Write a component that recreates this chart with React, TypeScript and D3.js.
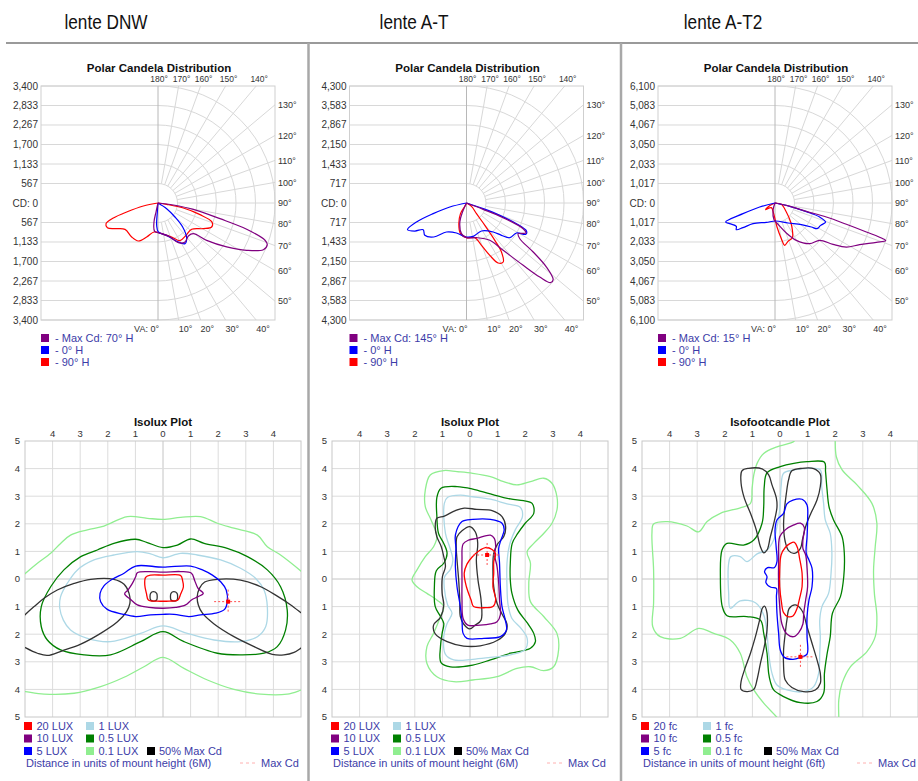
import * as d3 from "d3";
import { useEffect, useRef } from "react";

type Pt = [number, number];

// ---- headers / labels ----
const lensNames = ["lente DNW", "lente A-T", "lente A-T2"];
const maxCdLabels = ["- Max Cd: 70° H", "- Max Cd: 145° H", "- Max Cd: 15° H"];
const planeLabels = ["- 0° H", "- 90° H"];
const isoTitles = ["Isolux Plot", "Isolux Plot", "Isofootcandle Plot"];
const isoUnits = ["LUX", "LUX", "fc"];
const mountLabels = ["(6M)", "(6M)", "(6ft)"];
const isoLevelLabels = ["20", "10", "5", "1", "0.5", "0.1"];

// candela rings per lens
const cdTicksDnw = [567, 1133, 1700, 2267, 2833, 3400];
const cdTicksAt = [717, 1433, 2150, 2867, 3583, 4300];
const cdTicksAt2 = [1017, 2033, 3050, 4067, 5083, 6100];

const topAngles = [180, 170, 160, 150, 140];
const sideAngles = [130, 120, 110, 100, 90, 80, 70, 60, 50];
const bottomAngles = [10, 20, 30, 40];
const isoTicks = [-4, -3, -2, -1, 0, 1, 2, 3, 4];
const isoSideTicks = [5, 4, 3, 2, 1, 0, -1, -2, -3, -4, -5];

// ---- polar curves: [vertical angle, candela], negative angle = opposite plane ----
const dnwMax: Pt[] = [[-90, 0], [-12.5, 268], [-11.9, 564], [-6.7, 829], [6.8, 898], [19.4, 1048], [27.1, 1295], [34.7, 1378], [42.6, 1303], [49, 1360], [52.5, 1782], [57.4, 2370], [61.9, 2920], [66.1, 3348], [69, 3400], [70.8, 3293], [73.5, 2688], [75.8, 1858], [79.8, 1043], [82.6, 449], [90, 0]];
const dnw0H: Pt[] = [[-90, 0], [-4.2, 262], [-3.4, 650], [0.7, 843], [15, 973], [26, 1239], [33.6, 1418], [39.3, 1315], [45.8, 1000], [50.5, 640], [56.8, 301], [90, 0]];
const dnw90H: Pt[] = [[-90, 0], [-78.4, 435], [-74, 947], [-71.4, 1369], [-68.3, 1626], [-64, 1637], [-59.2, 1455], [-51.4, 1227], [-37.8, 1249], [-27.4, 1243], [-18.4, 1041], [-7.9, 850], [6.8, 898], [21.9, 1065], [30.3, 1268], [40.9, 1243], [52, 1242], [60.5, 1514], [65.9, 1708], [70.6, 1663], [74.5, 1267], [78.8, 751], [81, 255], [90, 0]];

const atMax: Pt[] = [[-90, 0], [-24, 362], [-19.3, 740], [-9.3, 1142], [0, 1274], [16.1, 1326], [32, 1617], [37.8, 2200], [42.3, 3096], [44.7, 3829], [46.5, 4255], [48.5, 4252], [51.3, 3766], [53.7, 3041], [56.2, 2358], [59.3, 2208], [63.2, 2444], [65.6, 2286], [68.2, 1452], [69.2, 655], [90, 0]];
const at0H: Pt[] = [[-90, 0], [-76.5, 630], [-72.3, 1286], [-69.2, 1966], [-65.7, 2379], [-61.5, 2160], [-58.4, 1870], [-52.2, 1938], [-43.9, 1733], [-34.6, 1295], [-18.4, 1162], [-1.1, 1250], [11.3, 1250], [28.2, 1167], [42.6, 1448], [47.3, 1751], [51.3, 2040], [59, 2143], [62.2, 2466], [65, 2433], [67.5, 1988], [69.7, 1306], [71.2, 647], [90, 0]];
const at90H: Pt[] = [[-90, 0], [-26.6, 137], [-29.4, 450], [-20.4, 810], [-11.1, 1148], [0, 1274], [13.5, 1310], [19.5, 1650], [24, 2106], [27.8, 2493], [31.9, 2553], [35.5, 2212], [37.2, 1722], [39.4, 1062], [43.2, 537], [56.3, 221], [90, 0]];

const at2Max: Pt[] = [[-90, 0], [-15.3, 396], [-3.4, 871], [10.2, 1183], [20.7, 1672], [29.7, 2242], [40.4, 2786], [50.1, 3035], [54.5, 3714], [58.3, 4370], [63.8, 4920], [68.8, 5668], [71.2, 6100], [71.7, 5930], [72.4, 4997], [73.4, 3883], [74.7, 2774], [75.1, 1691], [78.4, 603], [90, 0]];
const at20H: Pt[] = [[-90, 0], [-75.4, 826], [-71.6, 1759], [-69, 2757], [-65.5, 2598], [-58.9, 2355], [-55.4, 2449], [-52.4, 2107], [-46.8, 1574], [-24.1, 1105], [2.1, 939], [33, 1244], [50.6, 1778], [56.6, 2270], [58.6, 2567], [63.9, 2650], [69.4, 2821], [72.6, 2440], [74.5, 1695], [77.2, 784], [90, 0]];
const at290H: Pt[] = [[-90, 0], [-63.4, 272], [-54.5, 598], [-38.2, 309], [-7.1, 560], [4.8, 1255], [10.1, 1889], [12.9, 2264], [18.7, 2110], [26.6, 2021], [33, 1658], [39.5, 1284], [51.5, 754], [78, 337], [90, 0]];

// ---- isolux contours, in mount heights [x, y] ----
// lente DNW
const dnw01Upper: Pt[] = [[-5.1, 0.1], [-4.98, 0.21], [-4.55, 0.57], [-4.07, 0.93], [-3.71, 1.29], [-3.35, 1.59], [-2.74, 1.78], [-2.14, 1.92], [-1.29, 2.26], [-0.57, 2.2], [0, 2.16], [0.64, 2.23], [1.36, 2.26], [1.97, 2.02], [2.57, 1.84], [3.42, 1.59], [3.78, 1.17], [4.26, 0.87], [5.02, 0.27], [5.1, 0.2]];
const dnw01Lower: Pt[] = [[-5.1, -4.07], [-4.98, -4.08], [-4.31, -4.17], [-3.22, -4.14], [-2.26, -3.9], [-1.41, -3.56], [-0.69, -3.18], [0, -2.84], [0.76, -3.24], [1.61, -3.66], [2.57, -4.0], [3.54, -4.17], [4.5, -4.17], [5.02, -4.02], [5.1, -4.0]];
const dnw05: Pt[] = [[0, 1.14], [-0.57, 1.32], [-0.99, 1.44], [-1.78, 1.29], [-2.38, 1.05], [-2.98, 0.81], [-3.59, 0.33], [-4.07, -0.28], [-4.41, -1.0], [-4.41, -1.73], [-4.19, -2.21], [-3.71, -2.57], [-2.86, -2.75], [-1.9, -2.75], [-0.81, -2.27], [0, -1.91], [0.76, -2.27], [1.97, -2.69], [2.81, -2.75], [3.66, -2.69], [4.14, -2.45], [4.44, -1.85], [4.5, -1.12], [4.26, -0.28], [3.78, 0.33], [3.06, 0.81], [2.33, 1.11], [1.49, 1.29], [1.0, 1.45], [0.52, 1.23]];
const dnw1: Pt[] = [[0, 0.77], [-0.45, 0.91], [-0.93, 0.99], [-1.78, 0.87], [-2.5, 0.69], [-3.1, 0.33], [-3.47, -0.16], [-3.71, -0.64], [-3.74, -1.06], [-3.61, -1.49], [-3.35, -1.85], [-2.74, -2.15], [-1.9, -2.27], [-0.81, -1.97], [0, -1.7], [0.88, -1.97], [1.85, -2.21], [2.81, -2.27], [3.42, -2.09], [3.72, -1.73], [3.78, -1.0], [3.66, -0.4], [3.36, 0.02], [2.81, 0.39], [2.09, 0.69], [1.24, 0.87], [0.64, 0.93]];
const dnw5: Pt[] = [[-0.99, 0.47], [0, 0.43], [1.0, 0.47], [1.43, 0.33], [1.79, 0.14], [2.09, -0.1], [2.29, -0.4], [2.33, -0.82], [2.23, -1.1], [1.91, -1.24], [1.36, -1.3], [0.94, -1.36], [0.4, -1.28], [0, -1.28], [-0.45, -1.3], [-0.99, -1.36], [-1.47, -1.27], [-2.02, -1.1], [-2.26, -0.82], [-2.28, -0.52], [-2.14, -0.25], [-1.84, -0.01], [-1.41, 0.21]];
const dnw10: Pt[] = [[-0.93, 0.23], [-0.51, 0.27], [0, 0.25], [0.64, 0.27], [1.03, 0.21], [1.15, -0.06], [1.27, -0.34], [1.46, -0.52], [1.27, -0.64], [1.03, -0.76], [0.82, -0.94], [0.46, -1.03], [0, -1.06], [-0.51, -1.03], [-0.93, -0.94], [-1.17, -0.74], [-1.39, -0.54], [-1.27, -0.4], [-1.11, -0.16], [-0.99, 0.08]];
const dnw20: Pt[] = [[-0.63, 0.06], [-0.45, 0.14], [0, 0.14], [0.64, 0.13], [0.71, -0.06], [0.74, -0.28], [0.64, -0.54], [0.54, -0.76], [0.22, -0.8], [-0.21, -0.8], [-0.53, -0.76], [-0.6, -0.52], [-0.66, -0.22]];
const dnwHalfLeft: Pt[] = [[-5.1, -1.4], [-4.98, -1.28], [-4.67, -1.0], [-4.31, -0.7], [-3.83, -0.4], [-3.22, -0.16], [-2.62, -0.01], [-1.78, -0.01], [-1.41, -0.19], [-1.23, -0.52], [-1.2, -0.88], [-1.32, -1.18], [-1.65, -1.55], [-2.26, -1.97], [-2.98, -2.36], [-3.65, -2.6], [-4.19, -2.77], [-4.55, -2.69], [-4.98, -2.49], [-5.1, -2.42]];
const dnwHalfRight: Pt[] = [[5.1, -1.3], [5.02, -1.24], [4.63, -0.94], [4.14, -0.62], [3.54, -0.28], [2.81, -0.04], [1.97, -0.01], [1.51, -0.11], [1.32, -0.34], [1.24, -0.64], [1.28, -0.94], [1.43, -1.24], [1.85, -1.63], [2.57, -2.09], [3.3, -2.45], [3.96, -2.73], [4.38, -2.75], [4.75, -2.66], [5.02, -2.49], [5.1, -2.44]];
const dnwHalfSmallL: Pt[] = [[-0.47, -0.64], [-0.45, -0.52], [-0.35, -0.46], [-0.23, -0.52], [-0.21, -0.64], [-0.23, -0.76], [-0.35, -0.8], [-0.45, -0.76]];
const dnwHalfSmallR: Pt[] = [[0.27, -0.64], [0.29, -0.52], [0.39, -0.46], [0.51, -0.52], [0.53, -0.64], [0.51, -0.76], [0.39, -0.8], [0.29, -0.76]];

// lente A-T
const at01: Pt[] = [[-1.62, 3.22], [-1.44, 3.77], [-0.95, 3.93], [-0.47, 3.89], [0.1, 3.83], [0.74, 3.71], [1.22, 3.53], [1.7, 3.41], [2.19, 3.53], [2.67, 3.65], [2.97, 3.47], [3.15, 2.98], [3.15, 2.5], [2.97, 2.02], [2.67, 1.65], [2.31, 1.29], [2.07, 0.99], [2.19, 0.57], [2.13, -0.16], [2.19, -0.82], [2.67, -1.36], [3.15, -1.97], [3.21, -2.57], [3.03, -3.18], [2.67, -3.32], [2.19, -3.18], [1.7, -3.24], [0.98, -3.54], [0.1, -3.66], [-0.59, -3.72], [-1.2, -3.54], [-1.56, -3.06], [-1.56, -2.45], [-1.32, -1.97], [-1.07, -1.36], [-0.95, -1.0], [-1.2, -0.76], [-1.56, -0.52], [-1.92, -0.28], [-2.1, -0.04], [-1.92, 0.33], [-1.62, 0.81], [-1.32, 1.17], [-1.2, 1.53], [-1.41, 2.14], [-1.62, 2.62]];
const at05: Pt[] = [[-1.2, 2.96], [-1.05, 3.29], [-0.47, 3.35], [0.1, 3.26], [0.74, 3.08], [1.46, 2.9], [1.94, 2.84], [2.25, 2.74], [2.31, 2.38], [2.0, 2.02], [1.73, 1.65], [1.53, 1.29], [1.46, 0.57], [1.46, -0.04], [1.52, -0.52], [1.73, -1.12], [2.09, -1.61], [2.31, -1.97], [2.37, -2.27], [2.19, -2.51], [1.46, -2.69], [0.74, -2.93], [0.1, -3.12], [-0.71, -3.18], [-1.05, -3.03], [-1.07, -2.45], [-1.01, -1.97], [-0.95, -1.61], [-1.07, -1.36], [-1.26, -1.0], [-1.29, -0.28], [-1.22, 0.3], [-0.95, 0.57], [-0.83, 0.93], [-0.95, 1.29], [-1.14, 1.65], [-1.2, 2.26]];
const at1: Pt[] = [[-0.93, 2.74], [-0.81, 2.96], [-0.35, 3.04], [0.1, 2.98], [0.74, 2.89], [1.34, 2.72], [1.82, 2.6], [1.9, 2.26], [1.64, 1.78], [1.43, 1.23], [1.34, 0.57], [1.34, -0.28], [1.38, -0.94], [1.52, -1.43], [1.85, -1.79], [2.07, -2.15], [2.0, -2.55], [1.46, -2.75], [0.74, -2.84], [0.1, -2.91], [-0.59, -2.93], [-0.89, -2.73], [-0.95, -2.09], [-0.83, -1.61], [-0.65, -1.24], [-0.81, -0.94], [-0.93, -0.34], [-0.92, 0.08], [-0.71, 0.35], [-0.62, 0.69], [-0.74, 1.17], [-0.89, 1.65]];
const atHalfOuter: Pt[] = [[-1.26, 1.9], [-1.2, 2.2], [-0.93, 2.28], [-0.53, 2.48], [-0.21, 2.57], [0.25, 2.52], [0.8, 2.48], [1.16, 2.26], [1.29, 1.9], [1.22, 1.53], [1.0, 1.27], [0.86, 0.93], [0.83, 0.33], [0.86, -0.28], [0.98, -0.88], [1.16, -1.27], [1.34, -1.63], [1.28, -1.97], [0.98, -2.23], [0.37, -2.42], [-0.23, -2.43], [-0.83, -2.27], [-1.26, -1.99], [-1.32, -1.67], [-1.07, -1.39], [-0.95, -0.94], [-1.01, -0.52], [-1.0, 0.08], [-0.89, 0.45], [-0.95, 0.81], [-1.04, 1.17], [-1.2, 1.53]];
const atHalfInner: Pt[] = [[-0.47, 1.53], [-0.29, 1.75], [-0.01, 1.9], [0.19, 1.71], [0.28, 1.29], [0.23, 0.69], [0.29, -0.04], [0.4, -0.76], [0.4, -1.49], [0.19, -1.67], [-0.01, -1.81], [-0.23, -1.63], [-0.35, -1.36], [-0.37, -0.76], [-0.41, -0.04], [-0.47, 0.69], [-0.5, 1.17]];
const at5: Pt[] = [[-0.53, 1.59], [-0.29, 2.08], [0.1, 2.16], [0.74, 2.16], [1.16, 2.02], [1.24, 1.78], [1.12, 1.41], [1.04, 1.11], [1.07, 0.57], [1.1, -0.28], [1.16, -1.0], [1.28, -1.49], [1.32, -1.85], [1.1, -2.09], [0.5, -2.15], [-0.11, -2.15], [-0.25, -1.97], [-0.29, -1.49], [-0.35, -1.0], [-0.47, -0.28], [-0.53, 0.45], [-0.51, 1.11]];
const at10: Pt[] = [[-0.25, 1.27], [-0.05, 1.41], [0.25, 1.47], [0.74, 1.59], [0.88, 1.47], [0.93, 1.17], [0.89, 0.87], [0.98, 0.45], [1.04, -0.16], [1.07, -0.76], [1.1, -1.3], [0.98, -1.55], [0.74, -1.63], [0.37, -1.67], [-0.08, -1.67], [-0.25, -1.43], [-0.29, -0.76], [-0.29, -0.04], [-0.29, 0.69]];
const at20: Pt[] = [[0.37, 1.05], [0.56, 1.14], [0.8, 1.07], [0.93, 0.91], [0.86, 0.63], [0.86, 0.21], [0.83, -0.28], [0.93, -0.76], [0.83, -1.0], [0.56, -1.04], [0.13, -1.0], [0.04, -0.76], [-0.13, -0.28], [-0.21, 0.21], [-0.11, 0.54], [0.07, 0.79]];

// lente A-T2 (footcandles)
const at201Left: Pt[] = [[0.55, 5.1], [0.5, 4.98], [-0.11, 4.79], [-0.59, 4.55], [-0.83, 4.19], [-0.95, 3.77], [-1.01, 3.29], [-1.07, 2.74], [-1.44, 2.58], [-2.16, 2.38], [-2.64, 2.08], [-2.95, 1.71], [-3.37, 1.92], [-4.09, 2.08], [-4.58, 1.99], [-4.64, 1.65], [-4.58, 0.33], [-4.58, -0.88], [-4.61, -1.73], [-4.34, -2.09], [-3.61, -2.15], [-2.95, -1.79], [-2.4, -1.97], [-1.8, -2.21], [-1.44, -2.69], [-1.2, -3.54], [-0.95, -4.02], [-0.59, -4.5], [-0.13, -4.99], [-0.05, -5.1]];
const at201Right: Pt[] = [[2.0, 5.1], [2.0, 5.01], [2.04, 4.43], [2.25, 3.95], [2.79, 3.41], [3.33, 2.74], [3.51, 2.02], [3.45, 1.17], [3.39, 0.33], [3.42, -0.52], [3.51, -1.36], [3.45, -2.09], [3.15, -2.63], [2.55, -3.18], [2.25, -3.78], [2.13, -4.38], [2.13, -4.99], [2.13, -5.1]];
const at205: Pt[] = [[-0.47, 3.85], [0.01, 4.07], [0.5, 4.19], [0.98, 4.25], [1.61, 4.23], [1.65, 3.89], [1.7, 3.29], [1.78, 2.6], [1.94, 2.14], [2.25, 1.53], [2.33, 0.93], [2.31, 0.08], [2.19, -0.64], [1.9, -1.24], [1.82, -2.09], [1.7, -2.75], [1.61, -3.42], [1.58, -4.14], [1.34, -4.44], [0.74, -4.48], [0.13, -4.26], [-0.23, -4.02], [-0.35, -3.72], [-0.41, -3.42], [-0.47, -2.69], [-0.59, -1.97], [-0.71, -1.49], [-1.2, -1.36], [-1.92, -1.33], [-2.09, -1.0], [-2.16, 0.08], [-2.1, 1.05], [-1.92, 1.29], [-1.32, 1.23], [-0.95, 1.41], [-0.65, 2.02], [-0.59, 2.62], [-0.57, 3.35]];
const at21: Pt[] = [[0.13, 3.83], [0.5, 3.95], [0.98, 4.01], [1.46, 3.95], [1.51, 3.35], [1.58, 2.74], [1.64, 2.14], [1.82, 1.65], [1.88, 0.93], [1.85, 0.21], [1.76, -0.52], [1.52, -1.0], [1.44, -1.49], [1.46, -2.09], [1.44, -2.69], [1.4, -3.42], [1.22, -3.9], [0.86, -4.08], [0.25, -4.02], [-0.11, -3.84], [-0.29, -3.42], [-0.41, -2.69], [-0.47, -1.97], [-0.59, -1.3], [-0.89, -0.86], [-1.44, -0.79], [-1.8, -1.06], [-1.86, -0.52], [-1.86, 0.57], [-1.78, 0.81], [-1.44, 0.81], [-1.2, 0.63], [-0.83, 0.91], [-0.47, 1.05], [-0.23, 1.41], [-0.11, 1.9], [-0.01, 2.5], [0.04, 3.35]];
const at2HalfUL: Pt[] = [[-1.38, 3.92], [-1.14, 4.01], [-0.65, 3.99], [-0.41, 3.77], [-0.29, 3.41], [-0.13, 2.92], [-0.11, 2.6], [-0.21, 2.08], [-0.35, 1.53], [-0.47, 1.05], [-0.59, 0.95], [-0.71, 1.17], [-0.86, 1.78], [-1.07, 2.38], [-1.29, 2.92], [-1.41, 3.47]];
const at2HalfUR: Pt[] = [[0.43, 3.92], [0.8, 4.01], [1.22, 4.0], [1.46, 3.8], [1.46, 3.35], [1.34, 2.86], [1.12, 2.38], [0.93, 1.9], [0.81, 1.41], [0.74, 1.11], [0.52, 0.93], [0.31, 1.03], [0.19, 1.35], [0.13, 1.9], [0.16, 2.5], [0.23, 3.1], [0.31, 3.59]];
const at2HalfLL: Pt[] = [[-0.56, -0.98], [-0.47, -1.24], [-0.47, -1.85], [-0.57, -2.45], [-0.71, -3.06], [-0.83, -3.64], [-0.95, -4.0], [-1.2, -4.08], [-1.41, -4.0], [-1.41, -3.72], [-1.29, -3.3], [-1.07, -2.69], [-0.89, -2.09], [-0.74, -1.49], [-0.64, -1.06]];
const at2HalfLR: Pt[] = [[0.56, -0.94], [0.8, -1.15], [0.98, -1.73], [1.16, -2.33], [1.34, -2.93], [1.46, -3.42], [1.46, -3.78], [1.28, -4.02], [0.86, -4.08], [0.43, -3.93], [0.19, -3.66], [0.13, -3.18], [0.13, -2.57], [0.19, -1.97], [0.25, -1.49], [0.34, -1.06]];
const at25: Pt[] = [[0.13, 2.38], [0.25, 2.72], [0.47, 2.86], [0.8, 2.89], [0.98, 2.68], [1.0, 2.14], [0.98, 1.53], [0.95, 0.93], [1.05, 0.69], [1.16, 0.39], [1.16, -0.28], [1.05, -0.76], [0.98, -1.36], [0.98, -2.09], [0.98, -2.72], [0.74, -2.84], [0.47, -2.91], [0.16, -2.84], [0.01, -2.57], [-0.05, -1.97], [-0.11, -1.24], [-0.13, -0.64], [-0.13, -0.34], [-0.33, -0.3], [-0.51, -0.13], [-0.47, 0.08], [-0.56, 0.27], [-0.45, 0.41], [-0.21, 0.41], [-0.11, 0.63], [-0.14, 1.17], [-0.18, 1.78], [-0.11, 2.14]];
const at210: Pt[] = [[-0.01, 1.53], [0.19, 1.78], [0.5, 1.96], [0.74, 2.02], [0.88, 1.87], [0.83, 1.41], [0.83, 1.11], [0.93, 0.87], [0.98, 0.39], [1.0, -0.28], [0.93, -0.76], [0.86, -1.24], [0.83, -1.63], [0.68, -1.94], [0.5, -2.09], [0.25, -1.99], [0.07, -1.63], [-0.01, -1.0], [-0.05, -0.28], [-0.05, 0.69]];
const at220: Pt[] = [[0.04, 0.87], [0.19, 1.14], [0.37, 1.29], [0.52, 1.33], [0.64, 1.11], [0.71, 0.75], [0.8, 0.21], [0.8, -0.28], [0.71, -0.7], [0.62, -1.06], [0.47, -1.34], [0.28, -1.36], [0.13, -1.22], [0.05, -0.82], [-0.01, -0.28], [-0.01, 0.33]];

// location of max candela on the ground
const maxCdSpots: Pt[] = [[2.36, -0.82], [0.62, 0.87], [0.74, -2.82]];

const LEVEL_COLORS = ["#ff0000", "#800080", "#0000ff", "#add8e6", "#008000", "#90ee90"];
const HALF_COLOR = "#333333";
const CURVE_COLORS = ["#800080", "#0000ff", "#ff0000"];
const TEXT_BLUE = "#3c3ca8";
const FONT = "Tahoma, 'Liberation Sans', Arial, sans-serif";

type Level = { color: string; loops: Pt[][]; lines: Pt[][] };

const panels = [
    {
        cdTicks: cdTicksDnw,
        curves: [dnwMax, dnw0H, dnw90H],
        levels: [
            { color: LEVEL_COLORS[5], loops: [], lines: [dnw01Upper, dnw01Lower] },
            { color: LEVEL_COLORS[4], loops: [dnw05], lines: [] },
            { color: LEVEL_COLORS[3], loops: [dnw1], lines: [] },
            { color: HALF_COLOR, loops: [dnwHalfSmallL, dnwHalfSmallR], lines: [dnwHalfLeft, dnwHalfRight] },
            { color: LEVEL_COLORS[2], loops: [dnw5], lines: [] },
            { color: LEVEL_COLORS[1], loops: [dnw10], lines: [] },
            { color: LEVEL_COLORS[0], loops: [dnw20], lines: [] },
        ] as Level[],
    },
    {
        cdTicks: cdTicksAt,
        curves: [atMax, at0H, at90H],
        levels: [
            { color: LEVEL_COLORS[5], loops: [at01], lines: [] },
            { color: LEVEL_COLORS[4], loops: [at05], lines: [] },
            { color: LEVEL_COLORS[3], loops: [at1], lines: [] },
            { color: HALF_COLOR, loops: [atHalfOuter, atHalfInner], lines: [] },
            { color: LEVEL_COLORS[2], loops: [at5], lines: [] },
            { color: LEVEL_COLORS[1], loops: [at10], lines: [] },
            { color: LEVEL_COLORS[0], loops: [at20], lines: [] },
        ] as Level[],
    },
    {
        cdTicks: cdTicksAt2,
        curves: [at2Max, at20H, at290H],
        levels: [
            { color: LEVEL_COLORS[5], loops: [], lines: [at201Left, at201Right] },
            { color: LEVEL_COLORS[4], loops: [at205], lines: [] },
            { color: LEVEL_COLORS[3], loops: [at21], lines: [] },
            { color: HALF_COLOR, loops: [at2HalfUL, at2HalfUR, at2HalfLL, at2HalfLR], lines: [] },
            { color: LEVEL_COLORS[2], loops: [at25], lines: [] },
            { color: LEVEL_COLORS[1], loops: [at210], lines: [] },
            { color: LEVEL_COLORS[0], loops: [at220], lines: [] },
        ] as Level[],
    },
];

// layout
const WIDTH = 918;
const HEIGHT = 781;
const headerX = [106, 414, 723];
const polarCx = [158, 466.5, 775];
const polarCy = 203;
const R = 117;
const isoLeft = [25, 332, 642];
const isoTop = 441;
const isoSize = 276;
const deg = Math.PI / 180;

function App() {
    const ref = useRef<SVGSVGElement>(null);

    useEffect(() => {
        document.body.style.margin = "0";
        const svg = d3.select(ref.current);
        svg.selectAll("*").remove();
        svg.attr("width", WIDTH).attr("height", HEIGHT).style("font-family", FONT);

        svg.append("rect").attr("width", WIDTH).attr("height", HEIGHT).attr("fill", "#fff");

        // header + dividers
        lensNames.forEach((name, i) => {
            svg.append("text")
                .attr("transform", `translate(${headerX[i]},29) scale(0.82,1)`)
                .attr("text-anchor", "middle")
                .style("font-family", "'Liberation Sans', Arial, sans-serif")
                .style("font-size", "21px")
                .attr("fill", "#111")
                .text(name);
        });
        svg.append("line").attr("x1", 6).attr("x2", WIDTH).attr("y1", 43).attr("y2", 43)
            .attr("stroke", "#9a9a9a").attr("stroke-width", 2);
        [308.5, 621].forEach(x => {
            svg.append("line").attr("x1", x).attr("x2", x).attr("y1", 43).attr("y2", HEIGHT)
                .attr("stroke", "#a8a8a8").attr("stroke-width", 2.5);
        });

        const fmt = d3.format(",");

        panels.forEach((p, i) => {
            // ---------- polar candela ----------
            const cx = polarCx[i];
            const cy = polarCy;
            const maxCd = p.cdTicks[p.cdTicks.length - 1];
            const r = d3.scaleLinear().domain([0, maxCd]).range([0, R]);
            const g = svg.append("g");

            g.append("text")
                .attr("x", cx + 1).attr("y", 72)
                .attr("text-anchor", "middle")
                .style("font-size", "11.5px").style("font-weight", "bold")
                .attr("fill", "#111")
                .text("Polar Candela Distribution");

            // left horizontal grid
            p.cdTicks.forEach(v => {
                [cy - r(v), cy + r(v)].forEach(yy => {
                    g.append("line").attr("x1", cx - R).attr("x2", cx).attr("y1", yy).attr("y2", yy)
                        .attr("stroke", "#d8d8d8");
                });
            });

            // right rings
            p.cdTicks.forEach(v => {
                const path = d3.path();
                path.arc(cx, cy, r(v), -Math.PI / 2, Math.PI / 2);
                g.append("path").attr("d", path.toString()).attr("fill", "none").attr("stroke", "#d8d8d8");
            });

            // radial lines every 10 degrees
            d3.range(10, 180, 10).forEach(a => {
                const dx = Math.sin(a * deg);
                const dy = Math.cos(a * deg);
                const t = R / Math.max(Math.abs(dx), Math.abs(dy));
                const r0 = r(p.cdTicks[0]);
                g.append("line")
                    .attr("x1", cx + r0 * dx).attr("y1", cy + r0 * dy)
                    .attr("x2", cx + t * dx).attr("y2", cy + t * dy)
                    .attr("stroke", "#d8d8d8");
            });

            g.append("rect").attr("x", cx - R).attr("y", cy - R).attr("width", 2 * R).attr("height", 2 * R)
                .attr("fill", "none").attr("stroke", "#cfcfcf");
            g.append("line").attr("x1", cx).attr("x2", cx).attr("y1", cy - R).attr("y2", cy + R)
                .attr("stroke", "#b8b8b8");

            // cd labels
            const cdLabel = (yy: number, txt: string) =>
                g.append("text").attr("x", cx - R - 3).attr("y", yy).attr("dy", "0.35em")
                    .attr("text-anchor", "end").style("font-size", "10px").attr("fill", "#333").text(txt);
            p.cdTicks.forEach(v => {
                cdLabel(cy - r(v), fmt(v));
                cdLabel(cy + r(v), fmt(v));
            });
            cdLabel(cy, "CD: 0");

            // angle labels
            topAngles.forEach(a => {
                const off = R * Math.tan((180 - a) * deg);
                g.append("text").attr("x", cx + off + (a === 180 ? 1 : 3)).attr("y", cy - R - 4)
                    .attr("text-anchor", "middle").style("font-size", "8.5px").attr("fill", "#333")
                    .text(`${a}°`);
            });
            sideAngles.forEach(a => {
                const yy = cy - R * Math.tan((a - 90) * deg);
                g.append("text").attr("x", cx + R + 3).attr("y", yy).attr("dy", "0.35em")
                    .style("font-size", "9px").attr("fill", "#333").text(`${a}°`);
            });
            bottomAngles.forEach(a => {
                const off = R * Math.tan(a * deg);
                g.append("text").attr("x", cx + off).attr("y", cy + R + 12)
                    .style("font-size", "9px").attr("fill", "#333").text(`${a}°`);
            });
            g.append("text").attr("x", cx + 1).attr("y", cy + R + 12).attr("text-anchor", "end")
                .style("font-size", "9px").attr("fill", "#333").text("VA: 0°");

            // curves
            const radial = d3.lineRadial<Pt>()
                .angle(d => (180 - d[0]) * deg)
                .radius(d => r(d[1]))
                .curve(d3.curveCatmullRom.alpha(0.5));
            [2, 1, 0].forEach(k => {
                g.append("path")
                    .attr("transform", `translate(${cx},${cy})`)
                    .attr("d", radial(p.curves[k]) || "")
                    .attr("fill", "none")
                    .attr("stroke", CURVE_COLORS[k])
                    .attr("stroke-width", 1.2);
            });

            // polar legend
            const legendText = [maxCdLabels[i], ...planeLabels];
            legendText.forEach((t, k) => {
                const yy = 338 + k * 12;
                g.append("rect").attr("x", cx - R).attr("y", yy - 4).attr("width", 8).attr("height", 8)
                    .attr("fill", CURVE_COLORS[k]);
                g.append("text").attr("x", cx - R + 14).attr("y", yy).attr("dy", "0.35em")
                    .style("font-size", "11px").attr("fill", TEXT_BLUE).text(t);
            });

            // ---------- isolux ----------
            const left = isoLeft[i];
            const x = d3.scaleLinear().domain([-5, 5]).range([left, left + isoSize]);
            const y = d3.scaleLinear().domain([-5, 5]).range([isoTop + isoSize, isoTop]);
            const gi = svg.append("g");

            gi.append("text").attr("x", x(0)).attr("y", 426).attr("text-anchor", "middle")
                .style("font-size", "11.5px").style("font-weight", "bold").attr("fill", "#111")
                .text(isoTitles[i]);

            isoTicks.forEach(v => {
                gi.append("line").attr("x1", x(v)).attr("x2", x(v)).attr("y1", isoTop).attr("y2", isoTop + isoSize)
                    .attr("stroke", v === 0 ? "#c4c4c4" : "#dcdcdc");
                gi.append("line").attr("y1", y(v)).attr("y2", y(v)).attr("x1", left).attr("x2", left + isoSize)
                    .attr("stroke", v === 0 ? "#c4c4c4" : "#dcdcdc");
                gi.append("text").attr("x", x(v)).attr("y", isoTop - 4).attr("text-anchor", "middle")
                    .style("font-size", "9.5px").attr("fill", "#333").text(Math.abs(v));
            });
            isoSideTicks.forEach(v => {
                gi.append("text").attr("x", left - 5).attr("y", y(v)).attr("dy", "0.35em")
                    .attr("text-anchor", "end").style("font-size", "9.5px").attr("fill", "#333")
                    .text(Math.abs(v));
            });
            gi.append("rect").attr("x", left).attr("y", isoTop).attr("width", isoSize).attr("height", isoSize)
                .attr("fill", "none").attr("stroke", "#c8c8c8");

            const clipId = `iso-clip-${i}`;
            gi.append("clipPath").attr("id", clipId).append("rect")
                .attr("x", left).attr("y", isoTop).attr("width", isoSize).attr("height", isoSize);
            const cg = gi.append("g").attr("clip-path", `url(#${clipId})`);

            const loopGen = d3.line<Pt>().x(d => x(d[0])).y(d => y(d[1])).curve(d3.curveCatmullRomClosed.alpha(0.5));
            const lineGen = d3.line<Pt>().x(d => x(d[0])).y(d => y(d[1])).curve(d3.curveCatmullRom.alpha(0.5));
            p.levels.forEach(lv => {
                lv.loops.forEach(pts => {
                    cg.append("path").attr("d", loopGen(pts) || "").attr("fill", "none")
                        .attr("stroke", lv.color).attr("stroke-width", 1.3);
                });
                lv.lines.forEach(pts => {
                    cg.append("path").attr("d", lineGen(pts) || "").attr("fill", "none")
                        .attr("stroke", lv.color).attr("stroke-width", 1.3);
                });
            });

            // max cd marker
            const [mx, my] = maxCdSpots[i];
            const px = x(mx);
            const py = y(my);
            cg.append("line").attr("x1", px - 14).attr("x2", px + 14).attr("y1", py).attr("y2", py)
                .attr("stroke", "#ff5050").attr("stroke-dasharray", "2,2");
            cg.append("line").attr("x1", px).attr("x2", px).attr("y1", py - 12).attr("y2", py + 12)
                .attr("stroke", "#ff5050").attr("stroke-dasharray", "2,2");
            cg.append("rect").attr("x", px - 2).attr("y", py - 2).attr("width", 4).attr("height", 4).attr("fill", "#ff0000");

            // iso legend
            const colX = [left - 1, left + 61];
            isoLevelLabels.forEach((lab, k) => {
                const col = k < 3 ? 0 : 1;
                const row = k % 3;
                const yy = 726 + row * 12.5;
                gi.append("rect").attr("x", colX[col]).attr("y", yy - 4).attr("width", 8).attr("height", 8)
                    .attr("fill", LEVEL_COLORS[k]);
                gi.append("text").attr("x", colX[col] + 12.5).attr("y", yy).attr("dy", "0.35em")
                    .style("font-size", "11px").attr("fill", TEXT_BLUE).text(`${lab} ${isoUnits[i]}`);
            });
            const y3 = 726 + 2 * 12.5;
            gi.append("rect").attr("x", left + 122).attr("y", y3 - 4).attr("width", 8).attr("height", 8).attr("fill", "#000");
            gi.append("text").attr("x", left + 134).attr("y", y3).attr("dy", "0.35em")
                .style("font-size", "11px").attr("fill", TEXT_BLUE).text("50% Max Cd");
            gi.append("text").attr("x", left + 1).attr("y", 763).attr("dy", "0.35em")
                .style("font-size", "11px").attr("fill", TEXT_BLUE)
                .text(`Distance in units of mount height ${mountLabels[i]}`);
            gi.append("line").attr("x1", left + 215).attr("x2", left + 231).attr("y1", 763).attr("y2", 763)
                .attr("stroke", "#ffb0b0").attr("stroke-dasharray", "3,3");
            gi.append("text").attr("x", left + 236).attr("y", 763).attr("dy", "0.35em")
                .style("font-size", "11px").attr("fill", TEXT_BLUE).text("Max Cd");
        });
    }, []);

    return (
        <div style={{ position: "relative" }}>
            <svg ref={ref} style={{ display: "block" }} />
        </div>
    );
}

export default App;
